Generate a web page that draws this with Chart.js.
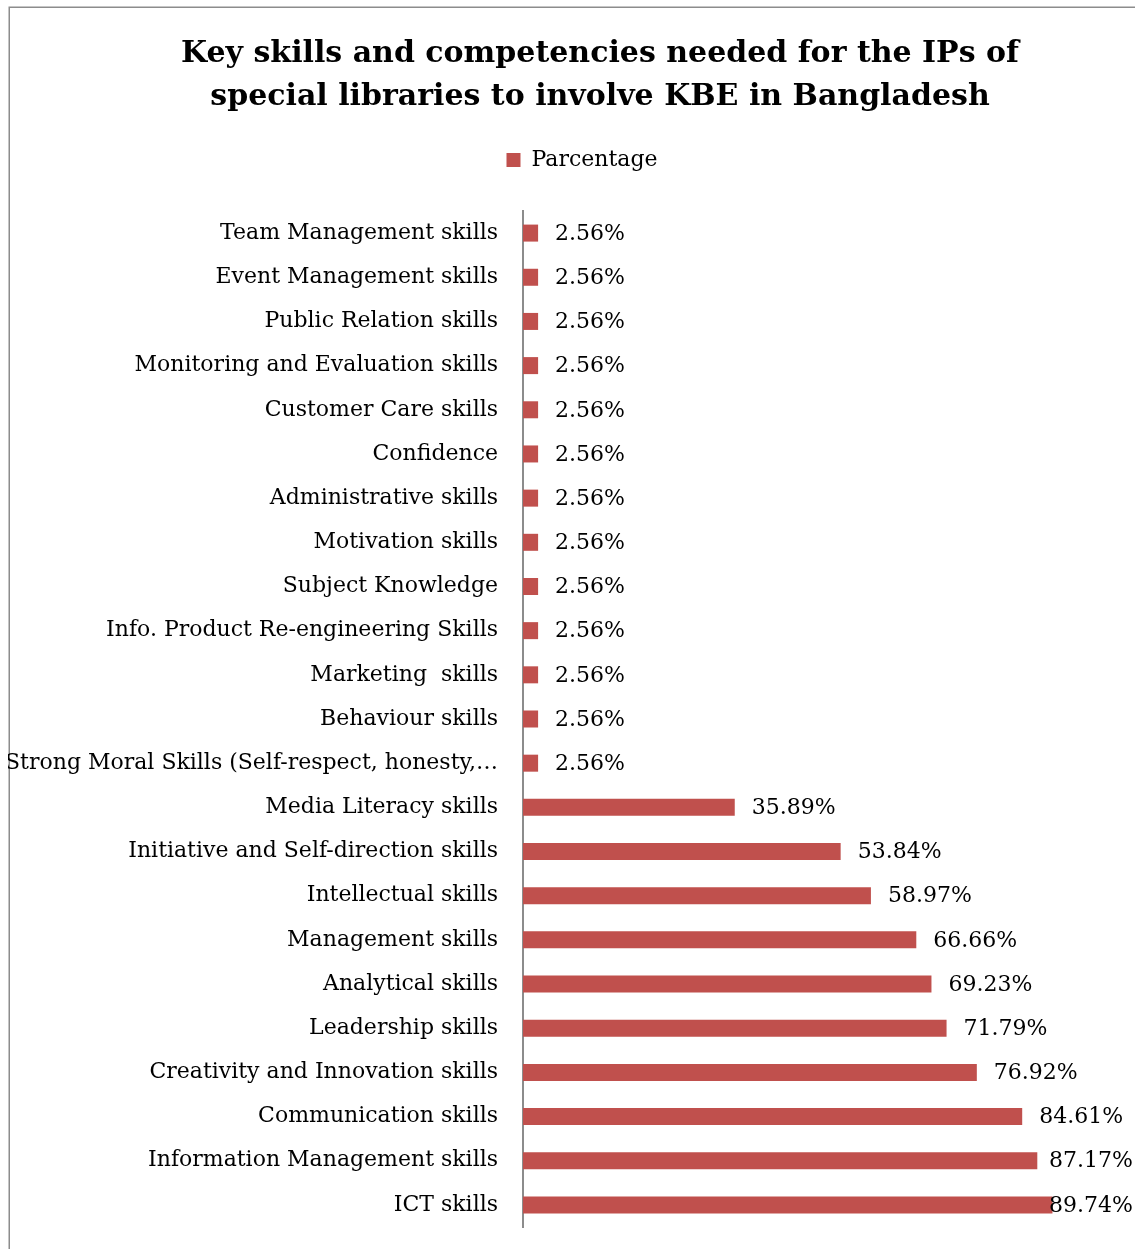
<!DOCTYPE html>
<html>
<head>
<meta charset="utf-8">
<title>Key skills and competencies</title>
<script src="https://cdn.jsdelivr.net/npm/chart.js@4.4.1/dist/chart.umd.min.js"></script>
<style>
  html, body { margin: 0; padding: 0; background: #ffffff; overflow: hidden; }
  #wrap { position: relative; width: 1135px; height: 1249px; }
</style>
</head>
<body>
<div id="wrap"><canvas id="chart"></canvas></div>
<script>
// Skills, listed top to bottom as they appear on the category axis
const skills = [
  'Team Management skills',
  'Event Management skills',
  'Public Relation skills',
  'Monitoring and Evaluation skills',
  'Customer Care skills',
  'Confidence',
  'Administrative skills',
  'Motivation skills',
  'Subject Knowledge',
  'Info. Product Re-engineering Skills',
  'Marketing  skills',
  'Behaviour skills',
  'Strong Moral Skills (Self-respect, honesty,…',
  'Media Literacy skills',
  'Initiative and Self-direction skills',
  'Intellectual skills',
  'Management skills',
  'Analytical skills',
  'Leadership skills',
  'Creativity and Innovation skills',
  'Communication skills',
  'Information Management skills',
  'ICT skills'
];

// Share of respondents (%) for each skill
const percentage = [
  2.56, 2.56, 2.56, 2.56, 2.56, 2.56, 2.56, 2.56, 2.56, 2.56, 2.56, 2.56, 2.56,
  35.89, 53.84, 58.97, 66.66, 69.23, 71.79, 76.92, 84.61, 87.17, 89.74
];

const seriesName = 'Parcentage';
const titleLines = [
  'Key skills and competencies needed for the IPs of',
  'special libraries to involve KBE in Bangladesh'
];

const SERIF = '"DejaVu Serif", "Liberation Serif", serif';
const BAR_RED = '#C0504D';

// Thin grey frame around the chart area
const framePlugin = {
  id: 'frame',
  beforeDraw(chart) {
    const ctx = chart.ctx;
    ctx.save();
    ctx.strokeStyle = '#8c8c8c';
    ctx.lineWidth = 1.5;
    ctx.strokeRect(9.25, 7.25, chart.width + 20, chart.height + 20);
    ctx.restore();
  }
};

// Centre the title and legend over the frame rather than the padded box
const headerShift = {
  id: 'headerShift',
  afterLayout(chart) {
    if (chart.titleBlock) {
      chart.titleBlock.left += 79;
    }
    if (chart.legend) {
      chart.legend.left += 43;
    }
  }
};

// Value labels written just past the end of each bar
const valueLabels = {
  id: 'valueLabels',
  afterDatasetsDraw(chart) {
    const ctx = chart.ctx;
    const meta = chart.getDatasetMeta(0);
    const data = chart.data.datasets[0].data;
    ctx.save();
    ctx.font = '22px ' + SERIF;
    ctx.fillStyle = '#000000';
    ctx.textAlign = 'left';
    ctx.textBaseline = 'middle';
    meta.data.forEach((bar, i) => {
      const text = data[i].toFixed(2) + '%';
      const w = ctx.measureText(text).width;
      let x = bar.x + 17;
      const maxX = chart.width - 2 - w;
      if (x > maxX) x = maxX;
      ctx.fillText(text, x, bar.y + 1);
    });
    ctx.restore();
  }
};

new Chart(document.getElementById('chart'), {
  type: 'bar',
  data: {
    labels: skills,
    datasets: [{
      label: seriesName,
      data: percentage,
      backgroundColor: BAR_RED,
      borderWidth: 0,
      categoryPercentage: 1,
      barPercentage: 0.385
    }]
  },
  options: {
    indexAxis: 'y',
    responsive: true,
    maintainAspectRatio: false,
    animation: false,
    events: [],
    layout: { padding: { left: 8, right: 22, top: 0, bottom: 22 } },
    plugins: {
      title: {
        display: true,
        text: titleLines,
        color: '#000000',
        font: { family: SERIF, size: 30, weight: 'bold', lineHeight: 1.45 },
        padding: { top: 32, bottom: 20 }
      },
      legend: {
        display: true,
        position: 'top',
        labels: {
          color: '#000000',
          font: { family: SERIF, size: 22 },
          boxWidth: 14,
          boxHeight: 14,
          padding: 10
        }
      },
      tooltip: { enabled: false }
    },
    scales: {
      x: {
        position: 'top',
        min: 0,
        max: 100,
        grid: { display: false },
        border: { display: false },
        ticks: { display: false },
        afterFit(scale) { scale.height = 30; }
      },
      y: {
        grid: { display: false },
        border: { display: true, color: '#8c8c8c', width: 2 },
        ticks: {
          color: '#000000',
          font: { family: SERIF, size: 22 },
          padding: 17,
          autoSkip: false
        },
        afterFit(scale) {
          scale.width = 515;
          scale.paddingTop = 0;
          scale.paddingBottom = 0;
        }
      }
    }
  },
  plugins: [framePlugin, headerShift, valueLabels]
});
</script>
</body>
</html>
